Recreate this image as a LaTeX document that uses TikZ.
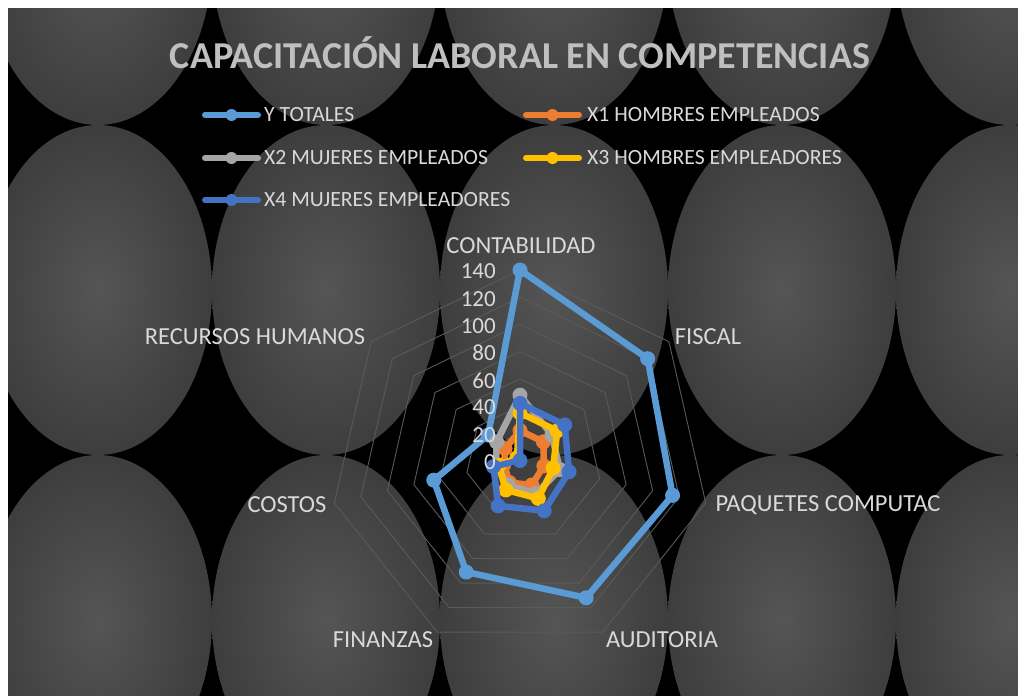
\documentclass[tikz,border=0pt]{standalone}
\usepackage{fontspec}
\setmainfont{Carlito}
\definecolor{cY}{HTML}{5B9BD5}
\definecolor{cA}{HTML}{ED7D31}
\definecolor{cB}{HTML}{A5A5A5}
\definecolor{cC}{HTML}{FFC000}
\definecolor{cD}{HTML}{4472C4}
\definecolor{orbin}{HTML}{555555}
\definecolor{orbout}{HTML}{262626}
\definecolor{txt}{HTML}{D9D9D9}
\definecolor{ttl}{HTML}{BFBFBF}
\definecolor{gridc}{HTML}{5A5A5A}
\pgfdeclareradialshading{orb}{\pgfpoint{0bp}{0bp}}{color(0bp)=(orbin); color(50bp)=(orbout); color(100bp)=(orbout)}
\newcommand\rpt[3]{\coordinate (#1) at ({520+1.3607*(#3)*cos(90-(#2)*360/7)},{460.5-1.3607*(#3)*sin(90-(#2)*360/7)});}
\newcommand\radarseries[3]{%
  \foreach \v [count=\k from 0] in {#3} {\rpt{#1\k}{\k}{\v}}
  \draw[serie,#2] (#10) -- (#11) -- (#12) -- (#13) -- (#14) -- (#15) -- (#16) -- cycle;
  \foreach \k in {0,...,6} {\fill[#2] (#1\k) circle (7.5);}
}
\begin{document}
\begin{tikzpicture}[x=1pt,y=-1pt,
  serie/.style={line width=6.5, line join=round, line cap=round},
  gridl/.style={draw=gridc, line width=0.9},
  ttlstyle/.style={text=ttl, font=\fontsize{38}{42}\selectfont\bfseries, inner sep=0},
  legtxt/.style={text=txt, font=\fontsize{21.7}{25}\selectfont, anchor=west, inner sep=0},
  axlab/.style={text=txt, font=\fontsize{24.5}{27}\selectfont, inner sep=0},
  ticklab/.style={text=txt, font=\fontsize{23}{26}\selectfont, anchor=east, inner sep=0},
  legline/.style={line width=6, line cap=round},
  mk/.style={circle, minimum size=12, inner sep=0}]
\useasboundingbox (0,0) rectangle (1018,696);
\fill[white] (0,0) rectangle (1018,696);
\fill[black] (8,8) rectangle (1018,696);
\begin{scope}
\clip (8,8) rectangle (1018,696);
\foreach \i in {0,...,4} \foreach \j in {0,1,2}
  \shade[shading=orb] ({98+228*\i},{-40+330*\j}) ellipse [x radius=114, y radius=165];
\end{scope}
% grid
\foreach \v in {20,40,...,140}
  \draw[gridl] (520,{460.5-1.3607*\v}) \foreach \k in {1,...,6} { -- ({520+1.3607*\v*cos(90-\k*360/7)},{460.5-1.3607*\v*sin(90-\k*360/7)}) } -- cycle;
% series
\radarseries{y}{cY}{140,120,115,112,91,65,30}
\radarseries{a}{cA}{22,22,18,20,18,12,14}
\radarseries{b}{cB}{48,30,30,27,20,18,22}
\radarseries{c}{cC}{35,35,25,31,24,16,3}
\radarseries{d}{cD}{42,42,37,41,37,20,0}
% tick labels
\foreach \v in {0,20,...,140}
  \node[ticklab] (t\v) at (496,{462-1.3607*\v}) {\v};
% axis labels
\node[axlab] (lcont) at (521,246) {CONTABILIDAD};
\node[axlab] (lfis) at (708,337) {FISCAL};
\node[axlab] (lpaq) at (828,505) {PAQUETES COMPUTAC};
\node[axlab] (laud) at (662,640) {AUDITORIA};
\node[axlab] (lfin) at (383,640) {FINANZAS};
\node[axlab] (lcos) at (287,505) {COSTOS};
\node[axlab] (lrh) at (255,337) {RECURSOS HUMANOS};
% legend
\coordinate (gYa) at (205,115); \coordinate (gYb) at (258,115);
\coordinate (gAa) at (526,115); \coordinate (gAb) at (579,115);
\coordinate (gBa) at (205,158); \coordinate (gBb) at (258,158);
\coordinate (gCa) at (526,158); \coordinate (gCb) at (579,158);
\coordinate (gDa) at (205,200); \coordinate (gDb) at (258,200);
\draw[legline,cY] (gYa) -- (gYb); \node[mk,fill=cY] (gYm) at (231.5,115) {};
\draw[legline,cA] (gAa) -- (gAb); \node[mk,fill=cA] (gAm) at (552.5,115) {};
\draw[legline,cB] (gBa) -- (gBb); \node[mk,fill=cB] (gBm) at (231.5,158) {};
\draw[legline,cC] (gCa) -- (gCb); \node[mk,fill=cC] (gCm) at (552.5,158) {};
\draw[legline,cD] (gDa) -- (gDb); \node[mk,fill=cD] (gDm) at (231.5,200) {};
\node[legtxt] (tY) at (264,115) {Y TOTALES};
\node[legtxt] (tA) at (587,115) {X1 HOMBRES EMPLEADOS};
\node[legtxt] (tB) at (264,158) {X2 MUJERES EMPLEADOS};
\node[legtxt] (tC) at (587,158) {X3 HOMBRES EMPLEADORES};
\node[legtxt] (tD) at (264,200) {X4 MUJERES EMPLEADORES};
% title
\node[ttlstyle] (title) at (520,53) {CAPACITACIÓN LABORAL EN COMPETENCIAS};
\end{tikzpicture}
\end{document}
